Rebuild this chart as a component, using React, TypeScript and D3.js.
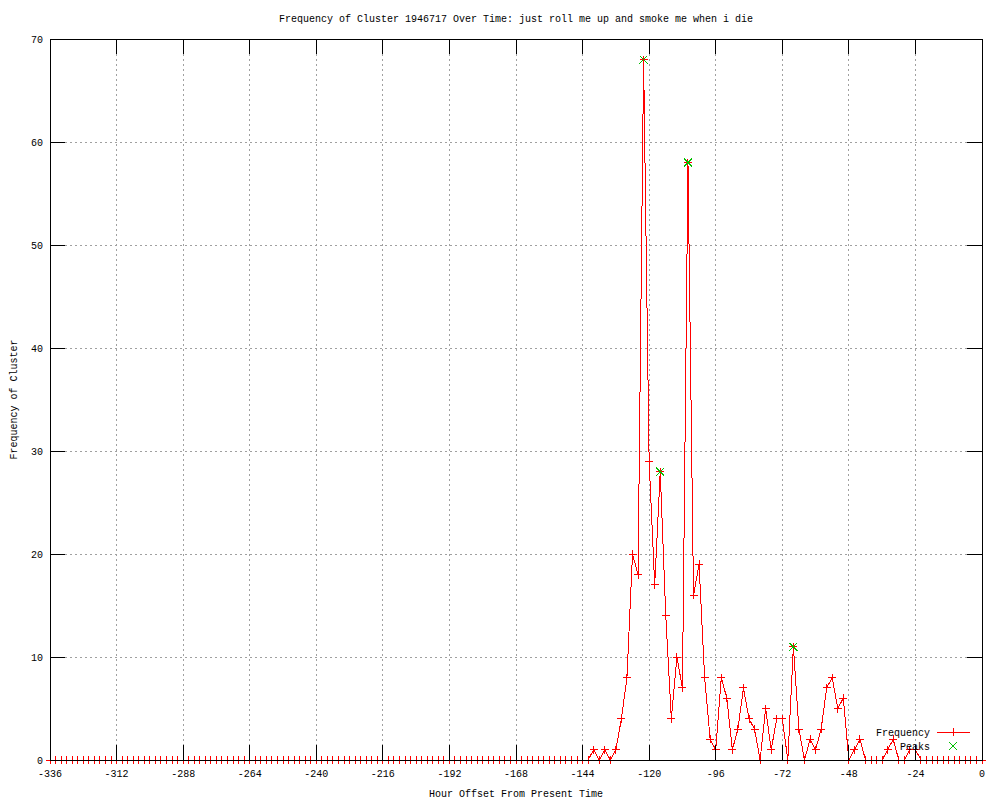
import React from "react";
import * as d3 from "d3";

// Frequency per 2-hour bin, from -336 h to 0 h
const values: number[] = [
  0, 0, 0, 0, 0, 0, 0, 0, 0, 0, 0, 0, // -336 .. -314
  0, 0, 0, 0, 0, 0, 0, 0, 0, 0, 0, 0, // -312 .. -290
  0, 0, 0, 0, 0, 0, 0, 0, 0, 0, 0, 0, // -288 .. -266
  0, 0, 0, 0, 0, 0, 0, 0, 0, 0, 0, 0, // -264 .. -242
  0, 0, 0, 0, 0, 0, 0, 0, 0, 0, 0, 0, // -240 .. -218
  0, 0, 0, 0, 0, 0, 0, 0, 0, 0, 0, 0, // -216 .. -194
  0, 0, 0, 0, 0, 0, 0, 0, 0, 0, 0, 0, // -192 .. -170
  0, 0, 0, 0, 0, 0, 0, 0, 0, 0, 0, 0, // -168 .. -146
  0, 0, 1, 0, 1, 0, 1, 4, 8, 20, 18, 68, // -144 .. -122
  29, 17, 28, 14, 4, 10, 7, 58, 16, 19, 8, 2, // -120 .. -98
  1, 8, 6, 1, 3, 7, 4, 3, 0, 5, 1, 4, // -96 .. -74
  4, 0, 11, 3, 0, 2, 1, 3, 7, 8, 5, 6, // -72 .. -50
  0, 1, 2, 0, 0, 0, 0, 1, 2, 0, 0, 1, // -48 .. -26
  1, 0, 0, 0, 0, 0, 0, 0, 0, 0, 0, 0, // -24 .. -2
  0, // 0
];
const startHour = -336;
const stepHours = 2;

const peakHours: number[] = [-122, -116, -106, -68];
const peakValues: number[] = [68, 28, 58, 11];

const xTicks: number[] = [-336, -312, -288, -264, -240, -216, -192, -168, -144, -120, -96, -72, -48, -24, 0];
const yTicks: number[] = [0, 10, 20, 30, 40, 50, 60, 70];

const titleText = "Frequency of Cluster 1946717 Over Time: just roll me up and smoke me when i die";
const xLabel = "Hour Offset From Present Time";
const yLabel = "Frequency of Cluster";
const seriesName = "Frequency";
const peaksName = "Peaks";

const FONT = "'Liberation Mono', 'DejaVu Sans Mono', monospace";

export default function App() {
  const left = 50, right = 982, top = 39, bottom = 760;
  const x = d3.scaleLinear().domain([-336, 0]).range([left, right]);
  const y = d3.scaleLinear().domain([0, 70]).range([bottom, top]);
  const pts = values.map((v, i) => ({ h: startHour + i * stepHours, v }));
  const line = d3.line<{ h: number; v: number }>().x((d) => x(d.h)).y((d) => y(d.v));
  const tick = 15;
  const ps = 4;
  const red = "#ff0000";
  const green = "#00c000";

  const plus = (cx: number, cy: number, key: string, color: string) => (
    <g key={key} stroke={color} strokeWidth={1}>
      <line x1={cx - ps} x2={cx + ps} y1={cy} y2={cy} />
      <line x1={cx} x2={cx} y1={cy - ps} y2={cy + ps} />
    </g>
  );
  const cross = (cx: number, cy: number, key: string) => (
    <g key={key} stroke={green} strokeWidth={1}>
      <line x1={cx - ps} x2={cx + ps} y1={cy - ps} y2={cy + ps} />
      <line x1={cx - ps} x2={cx + ps} y1={cy + ps} y2={cy - ps} />
    </g>
  );

  return (
    <svg
      width={1000}
      height={800}
      style={{ position: "absolute", left: 0, top: 0, background: "#fff" }}
      fontFamily={FONT}
      fontSize={10}
    >
      <rect x={0} y={0} width={1000} height={800} fill="#fff" />
      {/* grid */}
      <g stroke="#a0a0a0" strokeDasharray="2,3" shapeRendering="crispEdges">
        {xTicks.filter((t) => t !== -336 && t !== 0).map((t) => (
          <line key={"gx" + t} x1={x(t)} x2={x(t)} y1={top} y2={bottom} />
        ))}
        {yTicks.filter((t) => t !== 0 && t !== 70).map((t) => (
          <line key={"gy" + t} x1={left} x2={right} y1={y(t)} y2={y(t)} />
        ))}
      </g>
      {/* data */}
      <path d={line(pts) || ""} fill="none" stroke={red} strokeWidth={1} shapeRendering="crispEdges" />
      <g shapeRendering="crispEdges">
        {pts.map((d, i) => plus(x(d.h), y(d.v), "p" + i, red))}
        {peakHours.map((h, i) => cross(x(h), y(peakValues[i]), "k" + i))}
      </g>
      {/* border and ticks */}
      <g stroke="#000" strokeWidth={1} shapeRendering="crispEdges" fill="none">
        <rect x={left} y={top} width={right - left} height={bottom - top} />
        {xTicks.map((t) => (
          <g key={"tx" + t}>
            <line x1={x(t)} x2={x(t)} y1={bottom} y2={bottom - tick} />
            <line x1={x(t)} x2={x(t)} y1={top} y2={top + tick} />
          </g>
        ))}
        {yTicks.map((t) => (
          <g key={"ty" + t}>
            <line x1={left} x2={left + tick} y1={y(t)} y2={y(t)} />
            <line x1={right} x2={right - tick} y1={y(t)} y2={y(t)} />
          </g>
        ))}
      </g>
      {/* tick labels */}
      <g fill="#000">
        {xTicks.map((t) => (
          <text key={"lx" + t} x={x(t)} y={bottom + 17} textAnchor="middle">
            {t}
          </text>
        ))}
        {yTicks.map((t) => (
          <text key={"ly" + t} x={left - 7} y={y(t) + 4} textAnchor="end">
            {t}
          </text>
        ))}
      </g>
      {/* titles */}
      <text x={(left + right) / 2} y={22} textAnchor="middle" fill="#000">
        {titleText}
      </text>
      <text x={(left + right) / 2} y={797} textAnchor="middle" fill="#000">
        {xLabel}
      </text>
      <text
        transform={`translate(17, ${(top + bottom) / 2}) rotate(-90)`}
        textAnchor="middle"
        fill="#000"
      >
        {yLabel}
      </text>
      {/* legend */}
      <g>
        <text x={930} y={736} textAnchor="end" fill="#000">
          {seriesName}
        </text>
        <line x1={937} x2={970} y1={732} y2={732} stroke={red} shapeRendering="crispEdges" />
        <g shapeRendering="crispEdges">{plus(953, 732, "legp", red)}</g>
        <text x={930} y={750} textAnchor="end" fill="#000">
          {peaksName}
        </text>
        <g shapeRendering="crispEdges">{cross(953, 746, "legk")}</g>
      </g>
    </svg>
  );
}
